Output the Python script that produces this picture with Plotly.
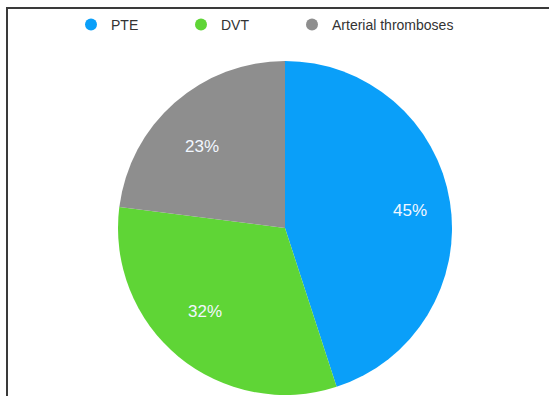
import math
import plotly.graph_objects as go

labels = ["PTE", "DVT", "Arterial thromboses"]
values = [45, 32, 23]
colors = ["#0A9FF9", "#5FD536", "#8E8E8E"]

W, H = 549, 396
cx, cy, r = 285, 228, 167
# label placement (fraction of radius along each slice's mid-angle; slightly wider horizontally)
lab_rx, lab_ry = 0.66 * 191, 0.66 * 165
legend_x_px = [71, 181, 292]

fig = go.Figure()
fig.add_trace(go.Pie(
    labels=labels, values=values, sort=False, direction="clockwise", rotation=0,
    marker=dict(colors=colors, line=dict(width=0)),
    textinfo="none",
    showlegend=False, hoverinfo="label+percent",
    domain=dict(x=[(cx - r) / W, (cx + r) / W], y=[1 - (cy + r) / H, 1 - (cy - r) / H]),
))
# legend entries with round markers, one legend per entry for fixed spacing
legend_names = ["legend", "legend2", "legend3"]
for lab, col, lg in zip(labels, colors, legend_names):
    fig.add_trace(go.Scatter(x=[None], y=[None], mode="markers", name=lab,
                             marker=dict(color=col, size=12, symbol="circle"),
                             showlegend=True, hoverinfo="skip", legend=lg))

total = sum(values)
annotations = []
acc = 0
for v in values:
    mid = (acc + v / 2) / total * 2 * math.pi
    acc += v
    px = cx + lab_rx * math.sin(mid)
    py = cy - lab_ry * math.cos(mid)
    annotations.append(dict(x=px / W, y=1 - py / H, xref="paper", yref="paper",
                            xanchor="center", yanchor="middle",
                            text=f"{round(100 * v / total)}%", showarrow=False,
                            font=dict(color="#F2F7FF", size=17,
                                      family="Liberation Sans, Arial, sans-serif")))

leg_common = dict(orientation="h", xanchor="left", y=1 - 9 / H, yanchor="top",
                  itemwidth=30, bgcolor="rgba(255,255,255,0)", borderwidth=0,
                  font=dict(size=14, color="#333333", family="Liberation Sans, Arial, sans-serif"))

fig.update_layout(
    width=W, height=H,
    margin=dict(l=0, r=0, t=0, b=0),
    paper_bgcolor="white", plot_bgcolor="white",
    xaxis=dict(visible=False), yaxis=dict(visible=False),
    legend=dict(x=legend_x_px[0] / W, **leg_common),
    legend2=dict(x=legend_x_px[1] / W, **leg_common),
    legend3=dict(x=legend_x_px[2] / W, **leg_common),
    annotations=annotations,
    shapes=[dict(type="rect", xref="paper", yref="paper",
                 x0=7 / W, x1=1.05, y0=-0.05, y1=1 - 8 / H,
                 line=dict(color="#3A3A3A", width=2), fillcolor="rgba(0,0,0,0)", layer="above")],
)
fig.write_html("out.html", config={"displayModeBar": False}, post_script=(
    "document.documentElement.style.margin='0';document.body.style.margin='0';"
    "document.documentElement.style.overflow='hidden';document.body.style.overflow='hidden';"))
